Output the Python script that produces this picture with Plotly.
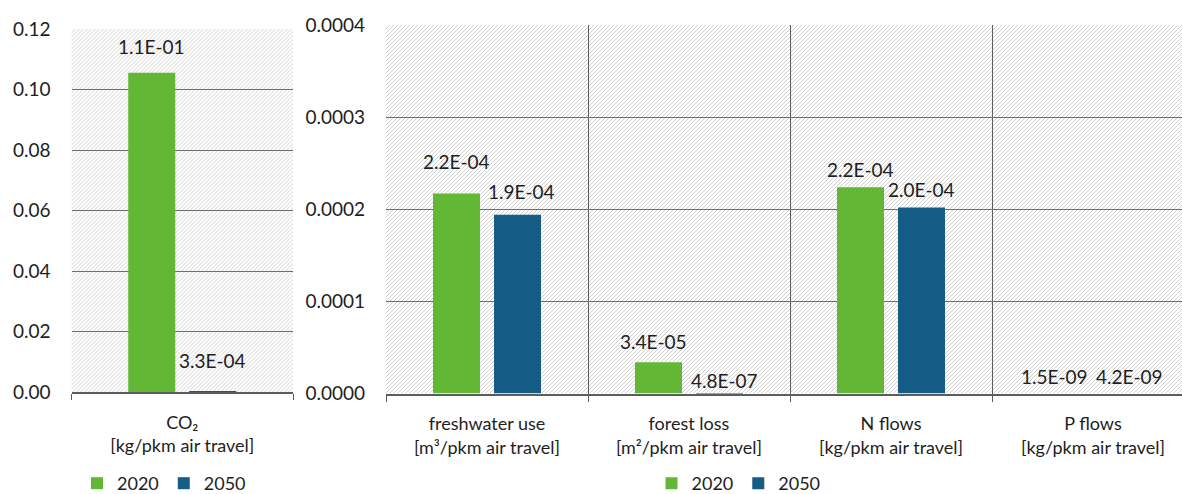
import base64
import plotly.graph_objects as go

# ---------------- data ----------------
years = ["2020", "2050"]
left_categories = ["CO₂"]
left_units = ["[kg/pkm air travel]"]
left_2020 = [0.1055]
left_2050 = [0.00033]

right_categories = ["freshwater use", "forest loss", "N flows", "P flows"]
right_units = ["[m³/pkm air travel]", "[m²/pkm air travel]",
               "[kg/pkm air travel]", "[kg/pkm air travel]"]
right_2020 = [0.000217, 0.000034, 0.000224, 1.5e-9]
right_2050 = [0.000194, 4.8e-7, 0.000202, 4.2e-9]

left_ticks = [0.0, 0.02, 0.04, 0.06, 0.08, 0.10, 0.12]
right_ticks = [0.0, 0.0001, 0.0002, 0.0003, 0.0004]

# label nudges in px (dx, dy above bar top), style only
left_nudge_2020 = [(0, 26)]
left_nudge_2050 = [(0, 31)]
right_nudge_2020 = [(0, 32), (-5, 21), (0, 18), (-8, 17)]
right_nudge_2050 = [(4, 23), (5, 13), (0, 18), (6, 17)]

# ---------------- style ----------------
W, H = 1182, 494
GREEN = "#62B834"
BLUE = "#155D86"
FONT = "Lato, sans-serif"
TXT = "#1e1e1e"
LINE = "#5c5c5c"

L_dom_x = (71.5 / W, 293 / W)
L_dom_y = ((H - 392) / H, (H - 29) / H)
R_dom_x = (386 / W, 1.0)
R_dom_y = ((H - 393.5) / H, (H - 25) / H)
R_range = [-0.5, 3.5 - 12 / 202]

BW = 47.0  # bar width px
BC = 30.5  # bar center offset px


def cats(names, units):
    return [f"{n}<br>{u}" for n, u in zip(names, units)]


def hatch_uri(wpx, hpx):
    svg = (f'<svg xmlns="http://www.w3.org/2000/svg" width="{wpx:.1f}" height="{hpx:.1f}" '
           f'viewBox="0 0 {wpx:.1f} {hpx:.1f}" preserveAspectRatio="none">'
           '<defs><pattern id="h" width="4" height="4" patternUnits="userSpaceOnUse">'
           '<path d="M-1,1 l2,-2 M0,4 l4,-4 M3,5 l2,-2" stroke="#d0d0d0" stroke-width="1"/>'
           '</pattern></defs><rect width="100%" height="100%" fill="#ffffff"/>'
           '<rect width="100%" height="100%" fill="url(#h)"/></svg>')
    return "data:image/svg+xml;base64," + base64.b64encode(svg.encode()).decode()


fig = go.Figure()

panels = [
    dict(xa="x", ya="y", legend="legend", names=cats(left_categories, left_units),
         v20=left_2020, v50=left_2050, n20=left_nudge_2020, n50=left_nudge_2050,
         unit_px=(L_dom_x[1] - L_dom_x[0]) * W / 1.0),
    dict(xa="x2", ya="y2", legend="legend2", names=cats(right_categories, right_units),
         v20=right_2020, v50=right_2050, n20=right_nudge_2020, n50=right_nudge_2050,
         unit_px=(R_dom_x[1] - R_dom_x[0]) * W / (R_range[1] - R_range[0])),
]

annotations = []
for p in panels:
    u = p["unit_px"]
    w = BW / u
    c = BC / u
    for yr, vals, col, sign, nudges in [(years[0], p["v20"], GREEN, -1, p["n20"]),
                                         (years[1], p["v50"], BLUE, 1, p["n50"])]:
        fig.add_trace(go.Bar(
            x=p["names"], y=vals, name=yr, marker=dict(color=col, line=dict(width=0)),
            width=w, offset=sign * c - w / 2, xaxis=p["xa"], yaxis=p["ya"],
            legend=p["legend"], showlegend=True, hoverinfo="x+y",
        ))
        for i, v in enumerate(vals):
            dx, dy = nudges[i]
            annotations.append(dict(
                x=i + sign * c, y=v, xref=p["xa"], yref=p["ya"],
                text=f"{v:.1E}", showarrow=False, xanchor="center", yanchor="middle",
                xshift=dx, yshift=dy, font=dict(family=FONT, size=19, color=TXT),
            ))

axis_common = dict(
    type="category", showgrid=True, gridcolor=LINE, gridwidth=1,
    tickson="boundaries", ticks="outside", ticklen=6, tickcolor=LINE, tickwidth=1,
    showline=True, linecolor=LINE, linewidth=2, automargin=False,
    tickfont=dict(family=FONT, size=18, color=TXT), ticklabelstandoff=13,
)
yaxis_common = dict(
    showgrid=True, gridcolor="#6e6e6e", gridwidth=1, zeroline=False, showline=False,
    automargin=False,
    ticks="", tickfont=dict(family=FONT, size=19, color=TXT), ticklabelstandoff=20,
)

legend_common = dict(
    orientation="h", yanchor="bottom", y=-8 / H, font=dict(family=FONT, size=18, color=TXT),
    bgcolor="rgba(0,0,0,0)", itemwidth=30, traceorder="normal",
)

fig.update_layout(
    width=W, height=H, autosize=False,
    margin=dict(l=0, r=0, t=0, b=0, autoexpand=False),
    paper_bgcolor="white", plot_bgcolor="rgba(0,0,0,0)",
    font=dict(family=FONT, size=18, color=TXT),
    barmode="overlay",
    xaxis=dict(domain=list(L_dom_x), anchor="y", range=[-0.5, 0.5], **axis_common),
    yaxis=dict(domain=list(L_dom_y), anchor="x", range=[0, left_ticks[-1]],
               tickvals=left_ticks, tickformat=".2f", **yaxis_common),
    xaxis2=dict(domain=list(R_dom_x), anchor="y2", range=R_range, **axis_common),
    yaxis2=dict(domain=list(R_dom_y), anchor="x2", range=[0, right_ticks[-1]],
                tickvals=right_ticks, tickformat=".4f", **yaxis_common),
    legend=dict(x=164 / W, xanchor="center", **legend_common),
    legend2=dict(x=738.5 / W, xanchor="center", **legend_common),
    annotations=annotations,
    images=[
        dict(source=hatch_uri((L_dom_x[1] - L_dom_x[0]) * W, (L_dom_y[1] - L_dom_y[0]) * H),
             xref="paper", yref="paper", x=L_dom_x[0], y=L_dom_y[1],
             sizex=L_dom_x[1] - L_dom_x[0], sizey=L_dom_y[1] - L_dom_y[0],
             xanchor="left", yanchor="top", sizing="stretch", layer="below"),
        dict(source=hatch_uri((R_dom_x[1] - R_dom_x[0]) * W, (R_dom_y[1] - R_dom_y[0]) * H),
             xref="paper", yref="paper", x=R_dom_x[0], y=R_dom_y[1],
             sizex=R_dom_x[1] - R_dom_x[0], sizey=R_dom_y[1] - R_dom_y[0],
             xanchor="left", yanchor="top", sizing="stretch", layer="below"),
    ],
)

fig.write_html(
    "out.html",
    config={"displayModeBar": False},
    post_script="document.body.style.margin='0';document.body.style.overflow='hidden';",
)
